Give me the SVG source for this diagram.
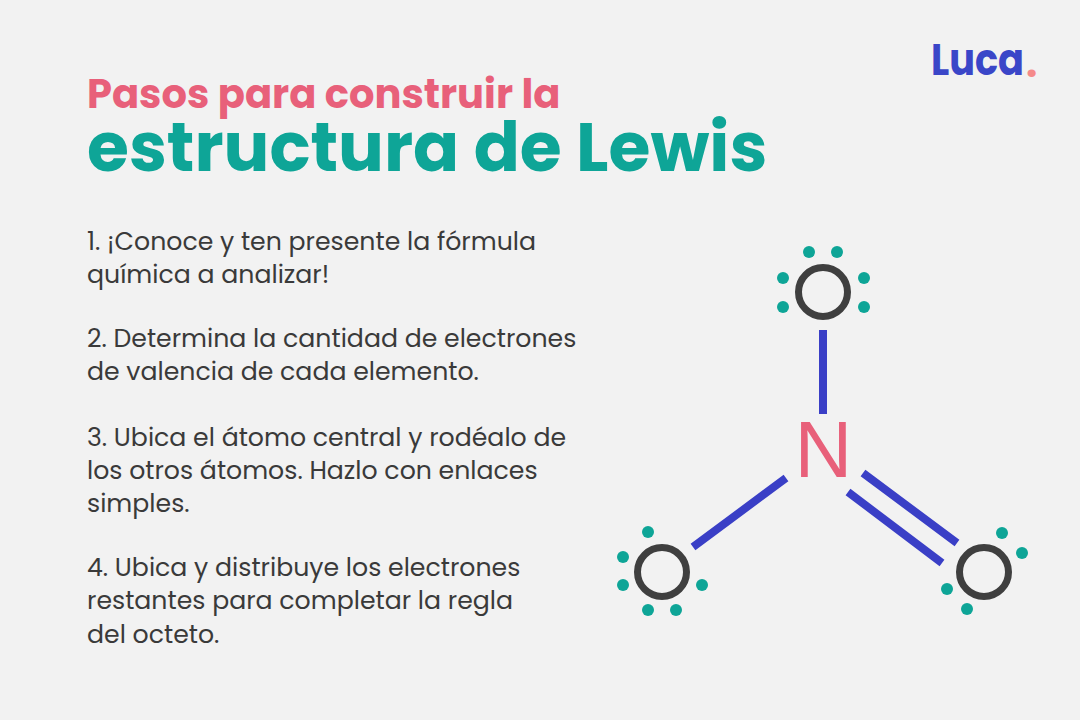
<svg xmlns="http://www.w3.org/2000/svg" width="1080" height="720" viewBox="0 0 1080 720">
<style>
text{font-family:"Poppins","Inter","Liberation Sans",sans-serif}
.b{font-size:25.200px;fill:#3a3a3a;font-weight:400}
.bond{stroke:#3a3fc6;stroke-width:8;fill:none}
.d{fill:#0ea597}
.o{fill:none;stroke:#3f3f3f;stroke-width:7}
</style>
<rect width="1080" height="720" fill="#f2f2f2"/>
<text x="87" y="108" font-size="40" font-weight="700" fill="#e8607a">Pasos para construir la</text>
<text x="87" y="171" font-size="68" font-weight="700" fill="#0ea597">estructura de Lewis</text>
<g id="logo"><text y="75" font-size="44" font-weight="700" fill="#3a46c8"><tspan x="931" textLength="93" lengthAdjust="spacingAndGlyphs">Luca</tspan><tspan x="1026" y="77" font-size="40" fill="#f58a8a">.</tspan></text></g>
<g id="steps">
<text class="b" x="87" y="250">1. ¡Conoce y ten presente la fórmula</text>
<text class="b" x="87" y="283">química a analizar!</text>
<text class="b" x="87" y="347">2. Determina la cantidad de electrones</text>
<text class="b" x="87" y="380">de valencia de cada elemento.</text>
<text class="b" x="87" y="446">3. Ubica el átomo central y rodéalo de</text>
<text class="b" x="87" y="479">los otros átomos. Hazlo con enlaces</text>
<text class="b" x="87" y="512">simples.</text>
<text class="b" x="87" y="576">4. Ubica y distribuye los electrones</text>
<text class="b" x="87" y="609">restantes para completar la regla</text>
<text class="b" x="87" y="643">del octeto.</text>
</g>
<g id="connectors">
<path class="bond" d="M823 330V414M786 478L693 547M863 473L957 543M848 492L942 563"/>
</g>
<g id="N"><text x="823.500" y="477" font-size="80" text-anchor="middle" fill="#e8607a" style="font-family:'Liberation Sans',sans-serif">N</text></g>
<g id="O1"><circle cx="823" cy="292" r="24.500" class="o"/>
<g class="d"><circle cx="809" cy="252" r="6"/><circle cx="837" cy="252" r="6"/><circle cx="783" cy="278" r="6"/><circle cx="783" cy="307" r="6"/><circle cx="864" cy="278" r="6"/><circle cx="864" cy="307" r="6"/></g></g>
<g id="O2"><circle cx="662" cy="572" r="24.500" class="o"/>
<g class="d"><circle cx="648" cy="532" r="6"/><circle cx="623" cy="557" r="6"/><circle cx="623" cy="585" r="6"/><circle cx="648" cy="610" r="6"/><circle cx="676" cy="610" r="6"/><circle cx="702" cy="585" r="6"/></g></g>
<g id="O3"><circle cx="984" cy="572" r="24.500" class="o"/>
<g class="d"><circle cx="1002" cy="533" r="6"/><circle cx="1022" cy="553" r="6"/><circle cx="947" cy="589" r="6"/><circle cx="967" cy="609" r="6"/></g></g>
</svg>
